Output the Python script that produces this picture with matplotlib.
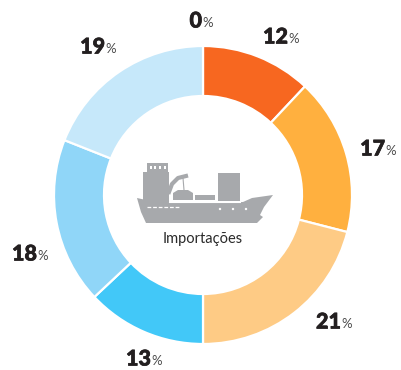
import matplotlib
matplotlib.use("Agg")
import matplotlib.pyplot as plt
import matplotlib.patheffects as pe
from matplotlib.patches import Rectangle, Polygon, Circle

# Data
values = [0, 12, 17, 21, 13, 18, 19]
labels = ["0", "12", "17", "21", "13", "18", "19"]
colors = ["#f76720", "#f76720", "#ffb03f", "#fecb85", "#42c8f8", "#90d6f8", "#c6e8fa"]
center_text = "Importações"

W, H = 402, 370
fig = plt.figure(figsize=(W / 100, H / 100), dpi=100)
ax = fig.add_axes([0, 0, 1, 1])


def ty(y):
    # picture rows run down, the axes run up
    return H - y


cx, cy = 203, 195
R = 149
ax.pie(values, colors=colors, startangle=90, counterclock=False,
       radius=R, center=(cx, ty(cy)), frame=False,
       wedgeprops=dict(width=R - 99, edgecolor="white", linewidth=1.6))
ax.set_xlim(0, W)
ax.set_ylim(0, H)
ax.set_aspect("equal")
ax.axis("off")

# right edge of the number, middle of the text
label_pos = [(202, 21), (288, 37), (385, 149), (341, 322), (151, 359), (37, 254), (105, 47)]
for txt, (x, y) in zip(labels, label_pos):
    ax.text(x, ty(y), txt, ha="right", va="center", fontsize=15.5, fontweight=900,
            color="#231f20", family="Lato",
            path_effects=[pe.withStroke(linewidth=0.5, foreground="#231f20")])
    ax.text(x, ty(y + 2), "%", ha="left", va="center", fontsize=9.5,
            color="#4a4a4a", family="Lato")

ax.text(cx, ty(239.5), center_text, ha="center", va="center", fontsize=10.5,
        color="#2a2a2a", family="Lato")

# ship icon
grey = "#a7a9ac"
hull = [(137, 198), (155, 202), (243, 202), (252, 198), (273, 195), (264, 207), (260, 215),
        (263, 217), (257, 223), (146, 223), (141, 212)]
ax.add_patch(Polygon([(x, ty(y)) for x, y in hull], closed=True, color=grey, lw=0))
ax.add_patch(Rectangle((143, ty(202)), 26, 30, color=grey, lw=0))
ax.add_patch(Rectangle((147, ty(172)), 21, 9, color=grey, lw=0))
for x in [151, 155, 160, 165]:
    ax.add_patch(Rectangle((x - 1, ty(169.5)), 2, 3, color="white", lw=0))
ax.add_patch(Rectangle((218, ty(201)), 22, 28, color=grey, lw=0))
ax.plot([169, 240], [ty(201.5), ty(201.5)], color="white", lw=0.8)
cargo = [(173, 200), (173, 193), (178, 190), (188, 190), (193, 193), (193, 200)]
ax.add_patch(Polygon([(x, ty(y)) for x, y in cargo], closed=True, color=grey, lw=0))
ax.add_patch(Rectangle((195, ty(200)), 20, 5, color=grey, lw=0))
ax.plot([169, 172, 178, 186], [ty(192), ty(184), ty(178), ty(176)], color=grey, lw=3)
ax.plot([183, 184], [ty(178), ty(190)], color=grey, lw=0.8)
for x in [220, 233, 246]:
    ax.add_patch(Circle((x, ty(209)), 1.2, color="white", lw=0))
ax.plot([147, 179], [ty(207), ty(207)], color="white", lw=0.9, ls=(0, (3, 1.5)))

fig.savefig("out.png", dpi=100)
